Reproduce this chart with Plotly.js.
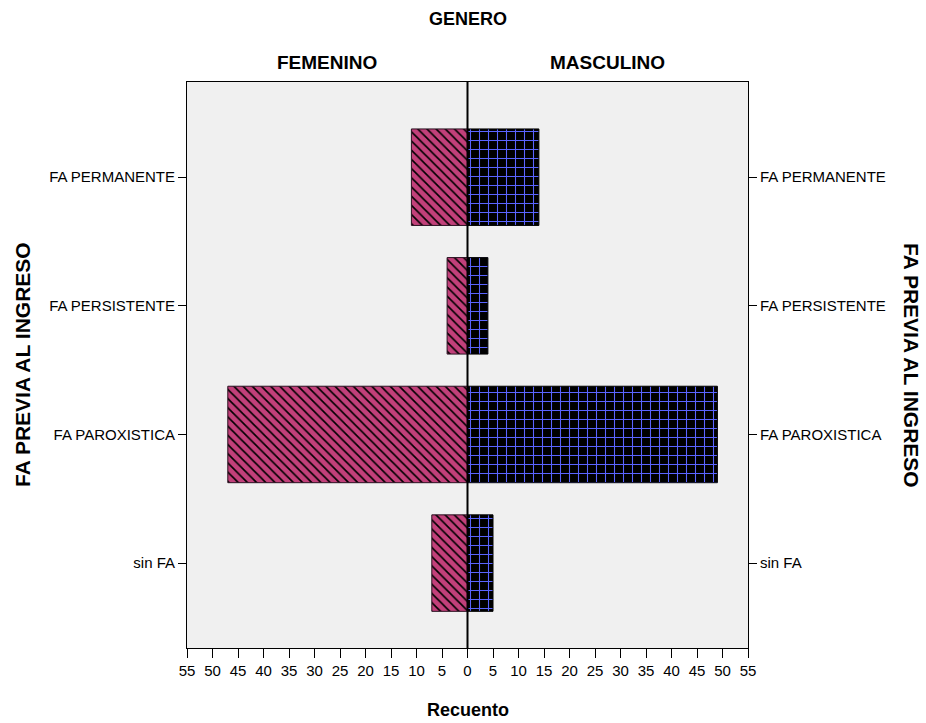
<!DOCTYPE html>
<html>
<head>
<meta charset="utf-8">
<script src="https://cdn.plot.ly/plotly-3.0.1.min.js"></script>
<style>html,body{margin:0;padding:0;background:#fff;}#chart{width:926px;height:723px;}</style>
</head>
<body>
<div id="chart"></div>
<script>
var categories = ["sin FA", "FA PAROXISTICA", "FA PERSISTENTE", "FA PERMANENTE"];
var femenino = [7, 47, 4, 11];
var masculino = [5, 49, 4, 14];
var tickValues = [-55,-50,-45,-40,-35,-30,-25,-20,-15,-10,-5,0,5,10,15,20,25,30,35,40,45,50,55];
var tickLabels = tickValues.map(function(v){return String(Math.abs(v));});
var catPos = categories.map(function(c,i){return i;});

var font = "Liberation Sans, Arial, sans-serif";

var traceF = {
  type: "bar", orientation: "h", name: "FEMENINO",
  y: catPos, x: femenino.map(function(v){return -v;}),
  width: 0.75,
  marker: {color: "#C2407A", line: {color: "#2a1020", width: 1},
    pattern: {shape: "\\", fgcolor: "#000000", bgcolor: "#C2407A", size: 6.5, solidity: 0.25, fillmode: "replace"}},
  hoverinfo: "skip", showlegend: false
};
var traceM = {
  type: "bar", orientation: "h", name: "MASCULINO",
  y: catPos, x: masculino,
  width: 0.75,
  marker: {color: "#000000", line: {color: "#000000", width: 1},
    pattern: {shape: "+", fgcolor: "#5A64FF", bgcolor: "#000000", size: 9, solidity: 0.22, fillmode: "replace"}},
  hoverinfo: "skip", showlegend: false
};
var traceR = {
  type: "scatter", mode: "markers", x: [0], y: [0], yaxis: "y2",
  marker: {opacity: 0}, hoverinfo: "skip", showlegend: false
};

var yax = {
  range: [-0.66, 3.74], tickvals: catPos, ticktext: categories,
  ticks: "outside", ticklen: 8, tickcolor: "#000", tickwidth: 1,
  showgrid: false, zeroline: false, showline: true, linecolor: "#000", linewidth: 1,
  tickfont: {family: font, size: 15, color: "#000"}, fixedrange: true
};
var yax2 = JSON.parse(JSON.stringify(yax));
yax2.overlaying = "y"; yax2.side = "right"; yax2.anchor = "x";

var layout = {
  width: 926, height: 723,
  margin: {l: 187, r: 178, t: 82, b: 75},
  paper_bgcolor: "#ffffff", plot_bgcolor: "#F0F0F0",
  barmode: "overlay",
  xaxis: {
    range: [-55, 55], tickvals: tickValues, ticktext: tickLabels,
    ticks: "outside", ticklen: 9, tickcolor: "#000", tickwidth: 1,
    showgrid: false, zeroline: false, showline: true, linecolor: "#000", linewidth: 1, mirror: true,
    tickfont: {family: font, size: 15, color: "#000"}, fixedrange: true
  },
  yaxis: yax,
  yaxis2: yax2,
  shapes: [
    {type: "line", xref: "x", yref: "paper", x0: 0, x1: 0, y0: 0, y1: 1, line: {color: "#000", width: 2}}
  ],
  annotations: [
    {text: "<b>GENERO</b>", xref: "paper", yref: "paper", x: 0.5, xanchor: "center", y: 1, yanchor: "middle", yshift: 63, showarrow: false, font: {family: font, size: 18, color: "#000"}},
    {text: "<b>FEMENINO</b>", xref: "paper", yref: "paper", x: 0.25, xanchor: "center", y: 1, yanchor: "middle", yshift: 20, showarrow: false, font: {family: font, size: 19, color: "#000"}},
    {text: "<b>MASCULINO</b>", xref: "paper", yref: "paper", x: 0.75, xanchor: "center", y: 1, yanchor: "middle", yshift: 20, showarrow: false, font: {family: font, size: 19, color: "#000"}},
    {text: "<b>Recuento</b>", xref: "paper", yref: "paper", x: 0.5, xanchor: "center", y: 0, yanchor: "middle", yshift: -62, showarrow: false, font: {family: font, size: 18, color: "#000"}},
    {text: "<b>FA PREVIA AL INGRESO</b>", xref: "paper", yref: "paper", x: 0, xanchor: "center", xshift: -165, y: 0.5, yanchor: "middle", textangle: -90, showarrow: false, font: {family: font, size: 21, color: "#000"}},
    {text: "<b>FA PREVIA AL INGRESO</b>", xref: "paper", yref: "paper", x: 1, xanchor: "center", xshift: 164, y: 0.5, yanchor: "middle", textangle: 90, showarrow: false, font: {family: font, size: 21, color: "#000"}}
  ]
};

Plotly.newPlot("chart", [traceF, traceM, traceR], layout, {displayModeBar: false, staticPlot: true});
</script>
</body>
</html>
